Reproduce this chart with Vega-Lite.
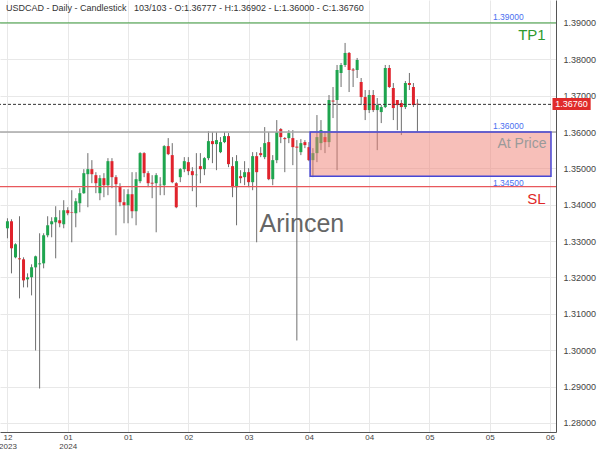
{
  "$schema": "https://vega.github.io/schema/vega-lite/v6.json",
  "width": 556,
  "height": 432,
  "autosize": {"type": "none"},
  "padding": {"left": 0, "top": 0, "right": 44, "bottom": 18},
  "background": "white",
  "title": {
    "text": "USDCAD - Daily - Candlestick\u00a0\u00a0\u00a0103/103 - O:1.36777 - H:1.36902 - L:1.36000 - C:1.36760",
    "anchor": "start",
    "frame": "group",
    "orient": "top",
    "offset": -13,
    "dx": 6,
    "fontSize": 9,
    "fontWeight": "normal",
    "color": "#333333",
    "font": "Liberation Sans"
  },
  "config": {
    "font": "Liberation Sans",
    "view": {"stroke": null},
    "axis": {"labelFont": "Liberation Sans"}
  },
  "resolve": {"axis": {"x": "independent", "y": "independent"}},
  "data": {"values": [
    {"i":0,"o":1.33352,"h":1.33628,"l":1.33077,"c":1.33545},
    {"i":1,"o":1.33545,"h":1.33600,"l":1.32113,"c":1.32802},
    {"i":2,"o":1.32554,"h":1.32940,"l":1.32526,"c":1.32912},
    {"i":3,"o":1.32526,"h":1.33683,"l":1.31424,"c":1.32499},
    {"i":4,"o":1.32499,"h":1.32554,"l":1.31727,"c":1.31920},
    {"i":5,"o":1.31948,"h":1.32113,"l":1.31727,"c":1.32003},
    {"i":6,"o":1.32003,"h":1.32361,"l":1.31507,"c":1.32278},
    {"i":7,"o":1.32278,"h":1.32600,"l":1.29992,"c":1.32581},
    {"i":8,"o":1.32361,"h":1.33215,"l":1.28945,"c":1.32388},
    {"i":9,"o":1.32388,"h":1.33215,"l":1.32251,"c":1.33160},
    {"i":10,"o":1.33160,"h":1.33683,"l":1.33105,"c":1.33435},
    {"i":11,"o":1.33463,"h":1.33656,"l":1.33105,"c":1.33545},
    {"i":12,"o":1.33518,"h":1.33959,"l":1.32526,"c":1.33656},
    {"i":13,"o":1.33573,"h":1.33849,"l":1.33380,"c":1.33490},
    {"i":14,"o":1.33463,"h":1.34124,"l":1.33352,"c":1.33849},
    {"i":15,"o":1.33849,"h":1.33931,"l":1.33711,"c":1.33766},
    {"i":16,"o":1.33800,"h":1.34399,"l":1.32967,"c":1.33785},
    {"i":17,"o":1.33766,"h":1.34179,"l":1.33380,"c":1.34096},
    {"i":18,"o":1.34041,"h":1.34455,"l":1.33793,"c":1.34317},
    {"i":19,"o":1.34317,"h":1.34978,"l":1.34300,"c":1.34868},
    {"i":20,"o":1.34840,"h":1.35419,"l":1.33931,"c":1.34978},
    {"i":21,"o":1.34978,"h":1.35226,"l":1.34592,"c":1.34840},
    {"i":22,"o":1.34813,"h":1.34895,"l":1.34317,"c":1.34592},
    {"i":23,"o":1.34317,"h":1.34813,"l":1.34124,"c":1.34730},
    {"i":24,"o":1.34730,"h":1.34868,"l":1.34207,"c":1.34537},
    {"i":25,"o":1.34537,"h":1.35281,"l":1.34262,"c":1.35198},
    {"i":26,"o":1.35198,"h":1.35281,"l":1.34455,"c":1.34758},
    {"i":27,"o":1.34758,"h":1.34813,"l":1.33160,"c":1.34565},
    {"i":28,"o":1.34510,"h":1.34592,"l":1.33959,"c":1.34069},
    {"i":29,"o":1.34069,"h":1.34427,"l":1.33490,"c":1.33986},
    {"i":30,"o":1.33986,"h":1.34427,"l":1.33490,"c":1.34289},
    {"i":31,"o":1.34289,"h":1.34895,"l":1.33628,"c":1.33821},
    {"i":32,"o":1.33821,"h":1.34895,"l":1.33435,"c":1.34702},
    {"i":33,"o":1.34647,"h":1.35446,"l":1.34592,"c":1.35419},
    {"i":34,"o":1.35419,"h":1.35446,"l":1.34758,"c":1.34868},
    {"i":35,"o":1.34868,"h":1.34923,"l":1.34482,"c":1.34592},
    {"i":36,"o":1.34605,"h":1.34813,"l":1.34179,"c":1.34580},
    {"i":37,"o":1.34592,"h":1.34868,"l":1.33242,"c":1.34813},
    {"i":38,"o":1.34537,"h":1.34758,"l":1.34262,"c":1.34550},
    {"i":39,"o":1.34537,"h":1.35639,"l":1.34262,"c":1.35612},
    {"i":40,"o":1.35612,"h":1.35832,"l":1.35364,"c":1.35391},
    {"i":41,"o":1.35364,"h":1.35694,"l":1.34592,"c":1.34620},
    {"i":42,"o":1.34592,"h":1.34620,"l":1.33904,"c":1.33931},
    {"i":43,"o":1.34758,"h":1.35006,"l":1.34620,"c":1.34978},
    {"i":44,"o":1.34978,"h":1.35309,"l":1.34895,"c":1.35198},
    {"i":45,"o":1.35171,"h":1.35309,"l":1.34813,"c":1.34923},
    {"i":46,"o":1.34923,"h":1.35033,"l":1.34372,"c":1.34813},
    {"i":47,"o":1.34813,"h":1.35419,"l":1.33931,"c":1.34826},
    {"i":48,"o":1.35061,"h":1.35419,"l":1.34592,"c":1.34978},
    {"i":49,"o":1.34978,"h":1.35309,"l":1.34813,"c":1.35281},
    {"i":50,"o":1.35281,"h":1.36025,"l":1.35226,"c":1.35749},
    {"i":51,"o":1.35749,"h":1.35997,"l":1.35143,"c":1.35667},
    {"i":52,"o":1.35667,"h":1.35997,"l":1.34950,"c":1.35777},
    {"i":53,"o":1.35446,"h":1.35860,"l":1.35419,"c":1.35722},
    {"i":54,"o":1.35722,"h":1.35997,"l":1.35694,"c":1.35887},
    {"i":55,"o":1.35887,"h":1.35970,"l":1.35033,"c":1.35116},
    {"i":56,"o":1.35061,"h":1.35309,"l":1.34207,"c":1.34482},
    {"i":57,"o":1.34482,"h":1.35364,"l":1.33435,"c":1.35198},
    {"i":58,"o":1.34785,"h":1.34950,"l":1.34592,"c":1.34730},
    {"i":59,"o":1.34758,"h":1.35198,"l":1.34537,"c":1.34895},
    {"i":60,"o":1.34895,"h":1.35006,"l":1.34482,"c":1.34620},
    {"i":61,"o":1.34620,"h":1.35446,"l":1.34399,"c":1.35336},
    {"i":62,"o":1.35336,"h":1.35446,"l":1.32967,"c":1.34895},
    {"i":63,"o":1.35419,"h":1.35584,"l":1.35309,"c":1.35364},
    {"i":64,"o":1.35309,"h":1.36135,"l":1.35253,"c":1.35694},
    {"i":65,"o":1.35722,"h":1.35997,"l":1.34675,"c":1.34702},
    {"i":66,"o":1.34702,"h":1.35364,"l":1.34537,"c":1.35226},
    {"i":67,"o":1.35226,"h":1.36328,"l":1.35143,"c":1.35997},
    {"i":68,"o":1.36080,"h":1.36107,"l":1.35694,"c":1.35860},
    {"i":69,"o":1.35832,"h":1.35860,"l":1.34895,"c":1.35804},
    {"i":70,"o":1.35832,"h":1.36052,"l":1.35694,"c":1.35970},
    {"i":71,"o":1.35832,"h":1.36052,"l":1.35088,"c":1.35584},
    {"i":72,"o":1.35598,"h":1.35777,"l":1.30267,"c":1.35570},
    {"i":73,"o":1.35446,"h":1.35804,"l":1.35364,"c":1.35694},
    {"i":74,"o":1.35722,"h":1.35777,"l":1.35556,"c":1.35639},
    {"i":75,"o":1.35584,"h":1.35722,"l":1.35198,"c":1.35226},
    {"i":76,"o":1.35226,"h":1.35556,"l":1.34758,"c":1.35419},
    {"i":77,"o":1.35419,"h":1.36466,"l":1.35171,"c":1.35860},
    {"i":78,"o":1.35694,"h":1.36328,"l":1.35501,"c":1.36052},
    {"i":79,"o":1.35860,"h":1.36025,"l":1.35419,"c":1.35722},
    {"i":80,"o":1.35722,"h":1.37017,"l":1.35584,"c":1.36879},
    {"i":81,"o":1.36865,"h":1.37237,"l":1.36383,"c":1.36837},
    {"i":82,"o":1.36879,"h":1.37843,"l":1.34950,"c":1.37705},
    {"i":83,"o":1.37623,"h":1.37898,"l":1.37237,"c":1.37843},
    {"i":84,"o":1.37843,"h":1.38449,"l":1.37788,"c":1.38174},
    {"i":85,"o":1.38174,"h":1.38200,"l":1.37099,"c":1.37705},
    {"i":86,"o":1.37719,"h":1.37760,"l":1.37237,"c":1.37691},
    {"i":87,"o":1.37705,"h":1.38036,"l":1.37485,"c":1.37981},
    {"i":88,"o":1.37375,"h":1.37485,"l":1.36741,"c":1.36961},
    {"i":89,"o":1.36961,"h":1.37154,"l":1.36328,"c":1.36603},
    {"i":90,"o":1.36603,"h":1.37154,"l":1.36521,"c":1.37017},
    {"i":91,"o":1.37017,"h":1.37154,"l":1.36548,"c":1.36603},
    {"i":92,"o":1.36603,"h":1.36934,"l":1.35501,"c":1.36741},
    {"i":93,"o":1.36548,"h":1.36741,"l":1.36245,"c":1.36686},
    {"i":94,"o":1.36686,"h":1.37843,"l":1.36658,"c":1.37760},
    {"i":95,"o":1.37760,"h":1.37843,"l":1.37209,"c":1.37237},
    {"i":96,"o":1.37209,"h":1.37347,"l":1.36328,"c":1.36658},
    {"i":97,"o":1.36879,"h":1.36879,"l":1.36052,"c":1.36741},
    {"i":98,"o":1.36796,"h":1.36879,"l":1.35915,"c":1.36686},
    {"i":99,"o":1.36686,"h":1.37402,"l":1.36631,"c":1.37347},
    {"i":100,"o":1.37347,"h":1.37623,"l":1.37154,"c":1.37292},
    {"i":101,"o":1.37237,"h":1.37347,"l":1.36686,"c":1.36741},
    {"i":102,"o":1.36777,"h":1.36902,"l":1.36000,"c":1.36760}
  ]},
  "layer": [
    {
      "mark": {"type": "rule", "color": "#6e6e6e", "strokeWidth": 1},
      "encoding": {
        "x": {
          "field": "i", "type": "quantitative",
          "scale": {"domain": [-0.611, 135.23], "nice": false, "zero": false},
          "axis": {
            "title": null, "orient": "bottom",
            "values": [0, 15, 30, 45, 60, 75, 90, 105, 120, 135],
            "labelExpr": "datum.value == 0 ? ['12','2023'] : datum.value == 15 ? ['01','2024'] : datum.value == 30 ? '01' : datum.value == 45 ? '02' : datum.value == 60 ? '03' : datum.value == 75 ? '04' : datum.value == 90 ? '04' : datum.value == 105 ? '05' : datum.value == 120 ? '05' : '06'",
            "labelFlush": true,
            "labelOverlap": false,
            "labelFontSize": 8, "labelColor": "#444444", "labelPadding": 1, "labelLineHeight": 9,
            "labelBaseline": "top",
            "ticks": false, "domain": true, "domainColor": "#555555", "domainWidth": 1,
            "grid": true, "gridColor": "#e8e8e8", "gridWidth": 1
          }
        },
        "y": {
          "field": "l", "type": "quantitative",
          "scale": {"domain": [1.2775, 1.3963], "nice": false, "zero": false},
          "axis": {
            "title": null, "orient": "right",
            "values": [1.28, 1.29, 1.30, 1.31, 1.32, 1.33, 1.34, 1.35, 1.36, 1.37, 1.38, 1.39],
            "tickCount": 12,
            "format": ".5f",
            "labelOverlap": false,
            "labelFontSize": 9, "labelColor": "#444444", "labelPadding": 7,
            "ticks": false, "domain": true, "domainColor": "#555555", "domainWidth": 1,
            "grid": true, "gridColor": "#e8e8e8", "gridWidth": 1
          }
        },
        "y2": {"field": "h"}
      }
    },
    {
      "mark": {"type": "bar", "size": 3},
      "encoding": {
        "x": {"field": "i", "type": "quantitative", "axis": null},
        "y": {"field": "o", "type": "quantitative", "axis": null},
        "y2": {"field": "c"},
        "color": {
          "condition": {"test": "datum.c >= datum.o", "value": "#1fa54f"},
          "value": "#e0232c"
        }
      }
    },
    {
      "data": {"values": [{"level": 1.36}]},
      "mark": {"type": "rule", "color": "#a8a8a8", "strokeWidth": 1.5},
      "encoding": {"y": {"field": "level", "type": "quantitative", "axis": null}}
    },
    {
      "data": {"values": [{"start": 75.3, "top": 1.36, "bottom": 1.3478}]},
      "mark": {"type": "rect", "fill": "#f07f74", "fillOpacity": 0.5, "stroke": "#4747d6", "strokeWidth": 1.5},
      "encoding": {
        "x": {"field": "start", "type": "quantitative", "axis": null},
        "x2": {"datum": 135.23},
        "y": {"field": "top", "type": "quantitative", "axis": null},
        "y2": {"field": "bottom"}
      }
    },
    {
      "data": {"values": [{"level": 1.39}]},
      "mark": {"type": "rule", "color": "#3c9a3c", "strokeWidth": 1},
      "encoding": {"y": {"field": "level", "type": "quantitative", "axis": null}}
    },
    {
      "data": {"values": [{"level": 1.345}]},
      "mark": {"type": "rule", "color": "#e8585c", "strokeWidth": 1.2},
      "encoding": {"y": {"field": "level", "type": "quantitative", "axis": null}}
    },
    {
      "data": {"values": [{"level": 1.3676}]},
      "mark": {"type": "rule", "color": "#333333", "strokeWidth": 1, "strokeDash": [3, 2]},
      "encoding": {"y": {"field": "level", "type": "quantitative", "axis": null}}
    },
    {
      "data": {"values": [
        {"pos": 124.6, "level": 1.39, "label": "1.39000"},
        {"pos": 124.6, "level": 1.36, "label": "1.36000"}
      ]},
      "mark": {"type": "text", "color": "#4a6ff0", "fontSize": 8.5, "baseline": "bottom", "align": "center", "dy": -1},
      "encoding": {
        "x": {"field": "pos", "type": "quantitative", "axis": null},
        "y": {"field": "level", "type": "quantitative", "axis": null},
        "text": {"field": "label"}
      }
    },
    {
      "data": {"values": [{"pos": 124.6, "level": 1.3459, "label": "1.34500"}]},
      "mark": {"type": "text", "color": "#4a6ff0", "fontSize": 8.5, "baseline": "middle", "align": "center"},
      "encoding": {
        "x": {"field": "pos", "type": "quantitative", "axis": null},
        "y": {"field": "level", "type": "quantitative", "axis": null},
        "text": {"field": "label"}
      }
    },
    {
      "data": {"values": [{"pos": 133.9, "level": 1.3868, "label": "TP1"}]},
      "mark": {"type": "text", "color": "#2e9a2e", "fontSize": 15, "baseline": "middle", "align": "right"},
      "encoding": {
        "x": {"field": "pos", "type": "quantitative", "axis": null},
        "y": {"field": "level", "type": "quantitative", "axis": null},
        "text": {"field": "label"}
      }
    },
    {
      "data": {"values": [{"pos": 134.1, "level": 1.3567, "label": "At Price"}]},
      "mark": {"type": "text", "color": "#9a9a9a", "fontSize": 14, "baseline": "middle", "align": "right"},
      "encoding": {
        "x": {"field": "pos", "type": "quantitative", "axis": null},
        "y": {"field": "level", "type": "quantitative", "axis": null},
        "text": {"field": "label"}
      }
    },
    {
      "data": {"values": [{"pos": 133.9, "level": 1.3417, "label": "SL"}]},
      "mark": {"type": "text", "color": "#e02828", "fontSize": 15, "baseline": "middle", "align": "right"},
      "encoding": {
        "x": {"field": "pos", "type": "quantitative", "axis": null},
        "y": {"field": "level", "type": "quantitative", "axis": null},
        "text": {"field": "label"}
      }
    },
    {
      "data": {"values": [{"pos": 62.7, "level": 1.3346, "label": "Arincen"}]},
      "mark": {"type": "text", "color": "#666666", "fontSize": 25, "baseline": "middle", "align": "left"},
      "encoding": {
        "x": {"field": "pos", "type": "quantitative", "axis": null},
        "y": {"field": "level", "type": "quantitative", "axis": null},
        "text": {"field": "label"}
      }
    },
    {
      "data": {"values": [{"from": 135.6, "to": 145.1, "top": 1.36934, "bottom": 1.36603}]},
      "mark": {"type": "rect", "fill": "#e02a2a", "clip": false},
      "encoding": {
        "x": {"field": "from", "type": "quantitative", "axis": null},
        "x2": {"field": "to"},
        "y": {"field": "top", "type": "quantitative", "axis": null},
        "y2": {"field": "bottom"}
      }
    },
    {
      "data": {"values": [{"pos": 140.35, "level": 1.36769, "label": "1.36760"}]},
      "mark": {"type": "text", "color": "white", "fontSize": 9, "baseline": "middle", "align": "center", "clip": false},
      "encoding": {
        "x": {"field": "pos", "type": "quantitative", "axis": null},
        "y": {"field": "level", "type": "quantitative", "axis": null},
        "text": {"field": "label"}
      }
    }
  ]
}
